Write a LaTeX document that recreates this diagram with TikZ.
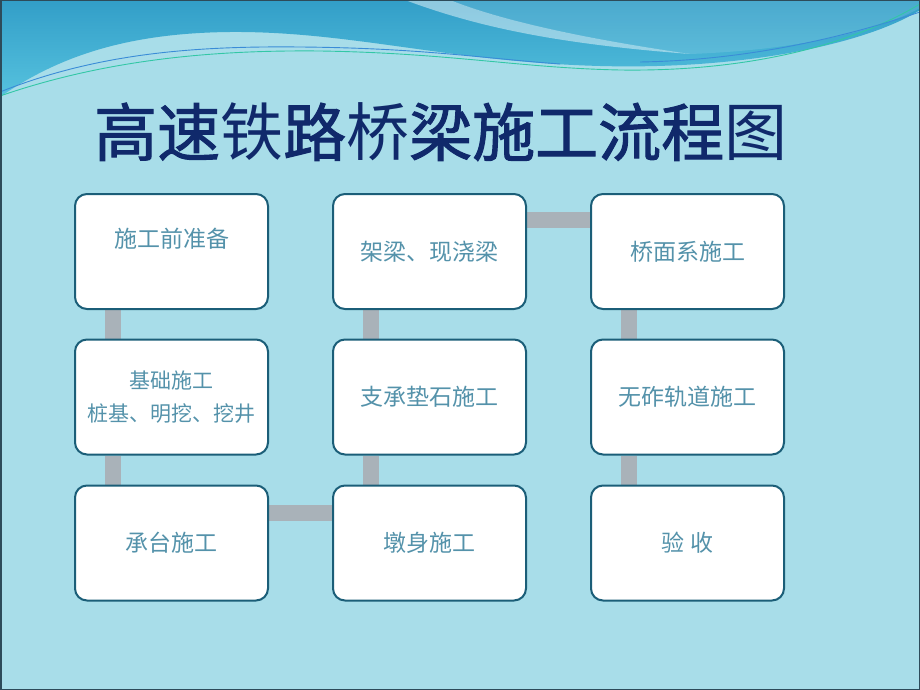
\documentclass[tikz,border=0pt]{standalone}
\usepackage{fontspec}
\setmainfont{Noto Sans CJK SC}
\newfontfamily\titleheavy{Noto Sans CJK SC}[FakeBold=1.6]
\usetikzlibrary{calc,backgrounds}

\definecolor{sky}{RGB}{168,221,233}
\definecolor{wavetop}{RGB}{50,158,200}
\definecolor{wavelow}{RGB}{86,194,222}
\definecolor{boxline}{RGB}{27,94,120}
\definecolor{boxtext}{RGB}{84,146,170}
\definecolor{titleblue}{RGB}{16,41,107}
\definecolor{linkgrey}{RGB}{169,178,185}

\tikzset{
  stepbox/.style={draw=boxline, line width=2pt, fill=white, rounded corners=12pt,
    minimum width=193pt, minimum height=115pt, inner sep=0pt,
    align=center, text=boxtext, font=\fontsize{23}{27}\selectfont},
  link/.style={draw=linkgrey, line width=16pt},
}

\begin{document}
\begin{tikzpicture}[x=1pt,y=1pt,yscale=-1,xscale=1]
	\useasboundingbox (0,0) rectangle (920,690);
	
	\begin{scope}[on background layer]
	%Shape: Background
	\fill [sky] (0,0) rectangle (920,690);
	%Shape: Wave
	\shade [top color=wavetop, bottom color=wavelow] (0,0) -- (0,97) .. controls (60,55) and (130,33) .. (230,32) .. controls (350,31) and (450,62) .. (600,66) .. controls (750,70) and (870,42) .. (920,10) -- (920,0) -- cycle ;
	%Shape: Streak
	\fill [white, fill opacity=0.45] (405,0) .. controls (480,28) and (560,44) .. (690,54) .. controls (580,38) and (500,20) .. (450,0) -- cycle ;
	\fill [white, fill opacity=0.12] (450,0) .. controls (500,20) and (580,38) .. (690,54) .. controls (800,50) and (880,30) .. (920,8) -- (920,0) -- cycle ;
	%Straight Lines
	\draw [color={rgb, 255:red, 58; green, 140; blue, 215 }, line width=0.9pt] (0,92) .. controls (100,52) and (200,46) .. (300,47) .. controls (420,48) and (480,58) .. (560,64) ;
	\draw [color={rgb, 255:red, 51; green, 199; blue, 166 }, line width=0.9pt] (0,96) .. controls (110,58) and (220,50) .. (320,51) .. controls (450,53) and (520,68) .. (620,70) .. controls (760,72) and (860,40) .. (920,4) ;
	\draw [color={rgb, 255:red, 58; green, 140; blue, 215 }, line width=0.9pt] (640,62) .. controls (760,60) and (860,32) .. (920,12) ;
	\end{scope}
	
	% Text Node
	\draw (94,132) node (title) [anchor=west][inner sep=0pt] [text=titleblue, font=\fontsize{63}{70}\selectfont] {{\titleheavy 高速}铁{\titleheavy 路}桥{\titleheavy 梁施工流程}图};
	
	% Boxes
	\draw (171.5,251.5) node (prep) [stepbox] {施工前准备\\\mbox{}};
	\draw (171.5,397) node (found) [stepbox, font=\fontsize{21}{33}\selectfont] {基础施工\\桩基、明挖、挖井};
	\draw (171.5,543) node (cap) [stepbox] {承台施工};
	\draw (429.5,543) node (pier) [stepbox] {墩身施工};
	\draw (429.5,397) node (bearing) [stepbox] {支承垫石施工};
	\draw (429.5,251.5) node (girder) [stepbox] {架梁、现浇梁};
	\draw (687.5,251.5) node (deck) [stepbox] {桥面系施工};
	\draw (687.5,397) node (track) [stepbox] {无砟轨道施工};
	\draw (687.5,543) node (accept) [stepbox] {验 收};
	
	% Links
	\begin{scope}[on background layer]
	\draw [link] ($(prep.south west)!0.2!(prep.south east)$) -- ($(found.north west)!0.2!(found.north east)$);
	\draw [link] ($(found.south west)!0.2!(found.south east)$) -- ($(cap.north west)!0.2!(cap.north east)$);
	\draw [link] ($(cap.north east)!0.24!(cap.south east)$) -- ($(pier.north west)!0.24!(pier.south west)$);
	\draw [link] ($(pier.north west)!0.2!(pier.north east)$) -- ($(bearing.south west)!0.2!(bearing.south east)$);
	\draw [link] ($(bearing.north west)!0.2!(bearing.north east)$) -- ($(girder.south west)!0.2!(girder.south east)$);
	\draw [link] ($(girder.north east)!0.235!(girder.south east)$) -- ($(deck.north west)!0.235!(deck.south west)$);
	\draw [link] ($(deck.south west)!0.2!(deck.south east)$) -- ($(track.north west)!0.2!(track.north east)$);
	\draw [link] ($(track.south west)!0.2!(track.south east)$) -- ($(accept.north west)!0.2!(accept.north east)$);
	\end{scope}
	
	%Shape: Frame
	\draw [color={rgb, 255:red, 45; green, 75; blue, 90 }, line width=1.5pt] (0.75,0.75) rectangle (919.25,689.25);
	
\end{tikzpicture}
\end{document}
